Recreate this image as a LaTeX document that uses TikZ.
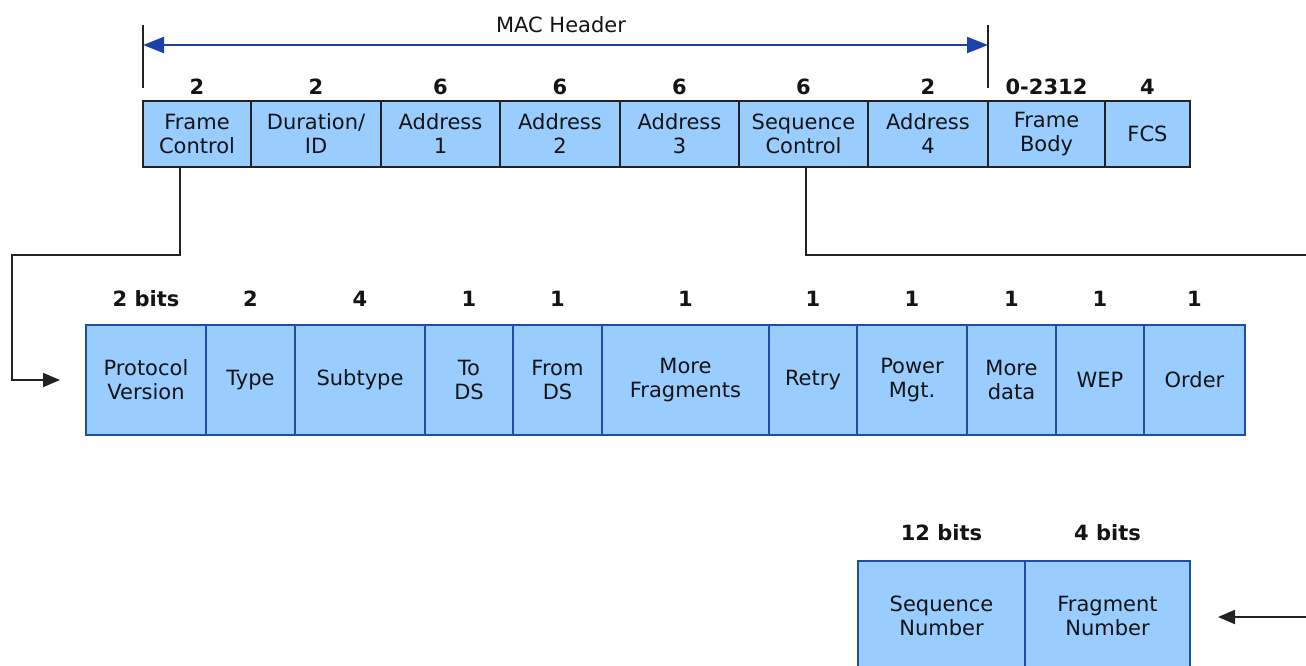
\documentclass[tikz,border=0pt]{standalone}
\usepackage{fontspec}
\setmainfont{DejaVu Sans}
\usetikzlibrary{arrows.meta}

\definecolor{fieldfill}{RGB}{153,204,255}
\definecolor{framedark}{RGB}{34,34,34}
\definecolor{bitblue}{RGB}{32,78,165}
\definecolor{hdrblue}{RGB}{28,66,170}
\definecolor{inktext}{RGB}{20,20,20}

\tikzset{
  field/.style={draw=framedark, line width=1.6pt, fill=fieldfill, inner sep=0pt,
    outer sep=0pt, minimum height=66pt, align=center, text=inktext,
    font=\fontsize{21}{24}\selectfont},
  bitfield/.style={field, draw=bitblue, minimum height=110pt},
  sizelbl/.style={inner sep=0pt, text=inktext, font=\bfseries\fontsize{21}{24}\selectfont},
  conn/.style={draw=framedark, line width=1.8pt, -{Triangle[length=17pt,width=14pt]}},
  wire/.style={draw=framedark, line width=1.8pt},
  tick/.style={draw=framedark, line width=1.5pt},
  macarrow/.style={draw=hdrblue, line width=2.4pt,
    {Triangle[length=21pt,width=16pt]}-{Triangle[length=21pt,width=16pt]}},
}

\begin{document}
\begin{tikzpicture}[x=1pt, y=-1pt]
\path[use as bounding box, clip] (0,0) rectangle (1306,665);
\fill[white] (0,0) rectangle (1306,665);

% ---- MAC frame ----
\node[field, minimum width=108pt] (fc)  at (197,134)    {Frame\\Control};
\node[field, minimum width=130pt] (dur) at (316,134)    {Duration/\\ID};
\node[field, minimum width=119pt] (a1)  at (440.5,134)  {Address\\1};
\node[field, minimum width=120pt] (a2)  at (560,134)    {Address\\2};
\node[field, minimum width=119pt] (a3)  at (679.5,134)  {Address\\3};
\node[field, minimum width=129pt] (sc)  at (803.5,134)  {Sequence\\Control};
\node[field, minimum width=120pt] (a4)  at (928,134)    {Address\\4};
\node[field, minimum width=117pt] (fb)  at (1046.5,134) {Frame\\Body};
\node[field, minimum width=85pt]  (fcs) at (1147.5,134) {FCS};

\foreach \n/\t in {fc/2, dur/2, a1/6, a2/6, a3/6, sc/6, a4/2, fb/0-2312, fcs/4}
  \node[sizelbl] (\n-len) at ([yshift=47pt]\n.center) {\t};

% ---- MAC header span ----
\coordinate (hLtop) at (143,25);
\coordinate (hLbot) at (143,88);
\coordinate (hRtop) at (988,25);
\coordinate (hRbot) at (988,88);
\coordinate (hL) at (143,45);
\coordinate (hR) at (988,45);
\draw[tick] (hLtop) -- (hLbot);
\draw[tick] (hRtop) -- (hRbot);
\draw[macarrow] (hL) -- (hR);
\node[text=inktext, font=\fontsize{21}{24}\selectfont, inner sep=0pt] (mach) at (561,25) {MAC Header};

% ---- Frame Control bits ----
\node[bitfield, minimum width=120pt] (pv)   at (146,380)    {Protocol\\Version};
\node[bitfield, minimum width=89pt]  (ty)   at (250.5,380)  {Type};
\node[bitfield, minimum width=130pt] (st)   at (360,380)    {Subtype};
\node[bitfield, minimum width=88pt]  (tds)  at (469,380)    {To\\DS};
\node[bitfield, minimum width=89pt]  (fds)  at (557.5,380)  {From\\DS};
\node[bitfield, minimum width=167pt] (mf)   at (685.5,380)  {More\\Fragments};
\node[bitfield, minimum width=88pt]  (rt)   at (813,380)    {Retry};
\node[bitfield, minimum width=110pt] (pm)   at (912,380)    {Power\\Mgt.};
\node[bitfield, minimum width=89pt]  (md)   at (1011.5,380) {More\\data};
\node[bitfield, minimum width=88pt]  (wep)  at (1100,380)   {WEP};
\node[bitfield, minimum width=101pt] (ord)  at (1194.5,380) {Order};

\foreach \n/\t in {pv/2 bits, ty/2, st/4, tds/1, fds/1, mf/1, rt/1, pm/1, md/1, wep/1, ord/1}
  \node[sizelbl] (\n-len) at ([yshift=81pt]\n.center) {\t};

% ---- Sequence Control bits ----
\node[bitfield, minimum width=167pt] (sn) at (941.5,616)  {Sequence\\Number};
\node[bitfield, minimum width=165pt] (fn) at (1107.5,616) {Fragment\\Number};

\foreach \n/\t in {sn/12 bits, fn/4 bits}
  \node[sizelbl] (\n-len) at ([yshift=83pt]\n.center) {\t};

% ---- connectors ----
\coordinate (k1) at (12,255);
\draw[conn, shorten >=26pt] ([xshift=-17pt]fc.south) |- (k1) |- (pv.west);

\coordinate (k2) at (1306,255);
\draw[wire] ([xshift=2.5pt]sc.south) |- (k2);

\coordinate (k3) at (1306,617);
\draw[conn, shorten >=28pt] (k3) -- (fn.east |- k3);
\end{tikzpicture}
\end{document}
